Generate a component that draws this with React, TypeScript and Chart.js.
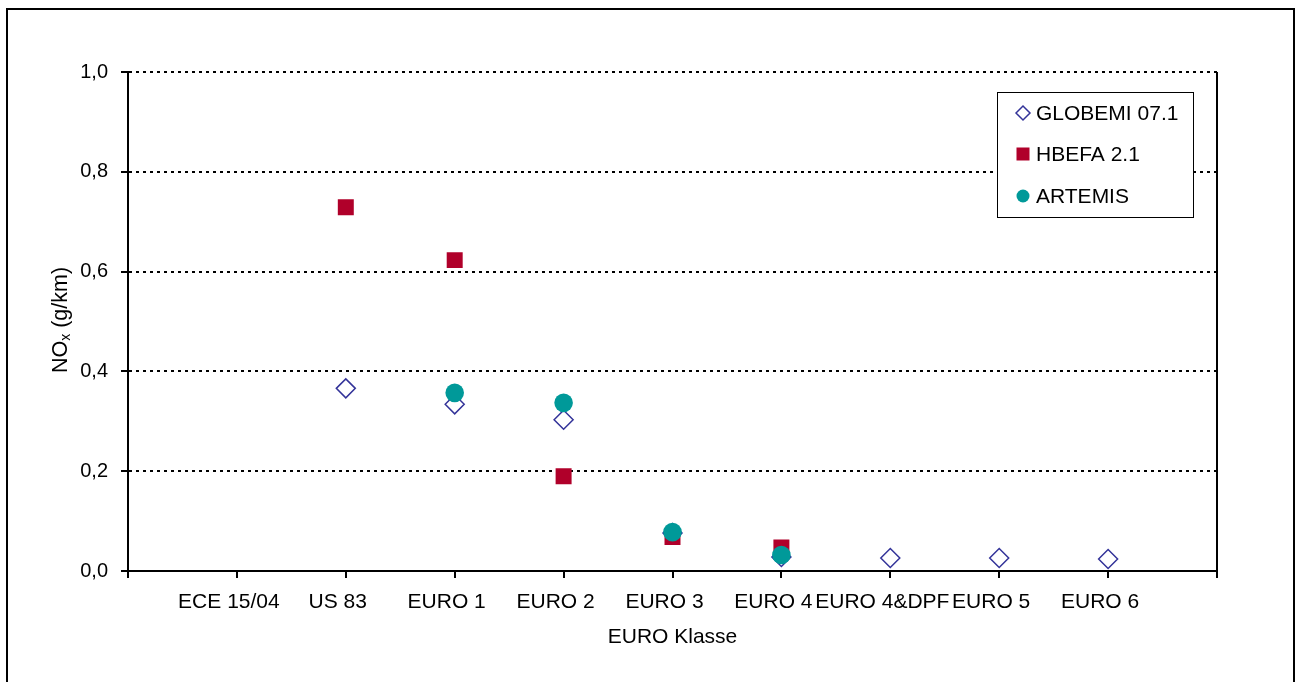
import React, { useEffect, useRef } from "react";
import { Chart, registerables } from "chart.js";

Chart.register(...registerables);

const categories = ["", "ECE 15/04", "US 83", "EURO 1", "EURO 2", "EURO 3", "EURO 4", "EURO 4&DPF", "EURO 5", "EURO 6", ""];
const globemi = [null, null, 0.366, 0.334, 0.303, 0.076, 0.028, 0.026, 0.026, 0.024, null];
const hbefa = [null, null, 0.729, 0.623, 0.19, 0.068, 0.047, null, null, null, null];
const artemis = [null, null, null, 0.357, 0.337, 0.078, 0.032, null, null, null, null];
const yTicks = [0, 0.2, 0.4, 0.6, 0.8, 1.0];

const seriesNames = ["GLOBEMI 07.1", "HBEFA 2.1", "ARTEMIS"];
const BLUE = "#333399";
const RED = "#B0002A";
const TEAL = "#009999";
const FONT = "'Liberation Sans', Arial, sans-serif";

const framePlugin = {
  id: "frame",
  afterDraw(chart: any) {
    const ctx = chart.ctx;
    const a = chart.chartArea;
    ctx.save();
    // outer frame
    ctx.strokeStyle = "#000";
    ctx.lineWidth = 2;
    ctx.strokeRect(7, 9, 1287, 720);
    // right plot border
    ctx.lineWidth = 2;
    ctx.beginPath();
    ctx.moveTo(a.right, a.top);
    ctx.lineTo(a.right, a.bottom);
    ctx.stroke();

    // y title with subscript
    ctx.fillStyle = "#000";
    ctx.translate(59, 320);
    ctx.rotate(-Math.PI / 2);
    const big = "21.5px " + FONT;
    const small = "14px " + FONT;
    ctx.font = big;
    const w1 = ctx.measureText("NO").width;
    const w3 = ctx.measureText(" (g/km)").width;
    ctx.font = small;
    const w2 = ctx.measureText("x").width;
    const total = w1 + w2 + w3;
    let x = -total / 2;
    ctx.textBaseline = "alphabetic";
    ctx.textAlign = "left";
    ctx.font = big;
    ctx.fillText("NO", x, 8);
    x += w1;
    ctx.font = small;
    ctx.fillText("x", x, 11);
    x += w2;
    ctx.font = big;
    ctx.fillText(" (g/km)", x, 8);
    ctx.restore();

    // x title
    ctx.save();
    ctx.font = "21px " + FONT;
    ctx.fillStyle = "#000";
    ctx.textAlign = "center";
    ctx.textBaseline = "middle";
    ctx.fillText("EURO Klasse", (a.left + a.right) / 2, 637);
    ctx.restore();

    // legend
    ctx.save();
    ctx.fillStyle = "#fff";
    ctx.fillRect(997.5, 92.5, 196, 125);
    ctx.strokeStyle = "#000";
    ctx.lineWidth = 1;
    ctx.strokeRect(997.5, 92.5, 196, 125);
    const rows = [113, 154, 196];
    const mx = 1023;
    // diamond
    ctx.strokeStyle = BLUE;
    ctx.lineWidth = 1.5;
    ctx.beginPath();
    ctx.moveTo(mx - 7, rows[0]);
    ctx.lineTo(mx, rows[0] - 7);
    ctx.lineTo(mx + 7, rows[0]);
    ctx.lineTo(mx, rows[0] + 7);
    ctx.closePath();
    ctx.fillStyle = "#fff";
    ctx.fill();
    ctx.stroke();
    // square
    ctx.fillStyle = RED;
    ctx.fillRect(mx - 6.5, rows[1] - 6.5, 13, 13);
    // circle
    ctx.fillStyle = TEAL;
    ctx.beginPath();
    ctx.arc(mx, rows[2], 6.5, 0, Math.PI * 2);
    ctx.fill();
    ctx.fillStyle = "#000";
    ctx.font = "21px " + FONT;
    ctx.textBaseline = "middle";
    ctx.textAlign = "left";
    seriesNames.forEach((n, i) => ctx.fillText(n, 1036, rows[i] + 1));
    ctx.restore();
  },
};

export default function App() {
  const ref = useRef<HTMLCanvasElement | null>(null);
  useEffect(() => {
    if (!ref.current) return;
    const chart = new Chart(ref.current, {
      type: "line",
      data: {
        labels: categories,
        datasets: [
          {
            label: seriesNames[0],
            data: globemi,
            showLine: false,
            pointStyle: "rectRot",
            pointRadius: 9.5,
            pointBorderWidth: 1.5,
            pointBorderColor: BLUE,
            pointBackgroundColor: "#fff",
            borderColor: BLUE,
            backgroundColor: "#fff",
            order: 3,
          },
          {
            label: seriesNames[1],
            data: hbefa,
            showLine: false,
            pointStyle: "rect",
            pointRadius: 11.3,
            pointBorderWidth: 0,
            pointBackgroundColor: RED,
            borderColor: RED,
            backgroundColor: RED,
            order: 2,
          },
          {
            label: seriesNames[2],
            data: artemis,
            showLine: false,
            pointStyle: "circle",
            pointRadius: 9.3,
            pointBorderWidth: 0,
            pointBackgroundColor: TEAL,
            borderColor: TEAL,
            backgroundColor: TEAL,
            order: 1,
          },
        ],
      },
      options: {
        responsive: false,
        animation: false,
        devicePixelRatio: 1,
        layout: { padding: { top: 72, right: 78, left: 0, bottom: 0 } },
        plugins: { legend: { display: false }, tooltip: { enabled: false } },
        scales: {
          x: {
            type: "category",
            offset: false,
            afterFit: (s: any) => {
              s.height = 111;
            },
            grid: {
              drawOnChartArea: false,
              drawTicks: true,
              tickLength: 7,
              color: "#000",
              lineWidth: 2,
            },
            border: { display: true, color: "#000", width: 2 },
            ticks: {
              autoSkip: false,
              maxRotation: 0,
              minRotation: 0,
              padding: 12,
              labelOffset: -8,
              color: "#000",
              font: { family: FONT, size: 21 },
            },
          },
          y: {
            min: 0,
            max: 1,
            afterFit: (s: any) => {
              s.width = 128;
            },
            afterBuildTicks: (s: any) => {
              s.ticks = yTicks.map((v) => ({ value: v }));
            },
            grid: {
              color: "#000",
              lineWidth: 2,
              tickLength: 7,
              tickBorderDash: [],
            },
            border: { display: true, color: "#000", width: 2, dash: [3, 4] },
            ticks: {
              padding: 13,
              color: "#000",
              font: { family: FONT, size: 20 },
              callback: (v: any) => Number(v).toFixed(1).replace(".", ","),
            },
          },
        },
      },
      plugins: [framePlugin],
    });
    return () => chart.destroy();
  }, []);
  return (
    <div style={{ position: "absolute", left: 0, top: 0, width: 1295, height: 682, overflow: "hidden" }}>
      <canvas ref={ref} width={1295} height={682} style={{ display: "block" }} />
    </div>
  );
}
